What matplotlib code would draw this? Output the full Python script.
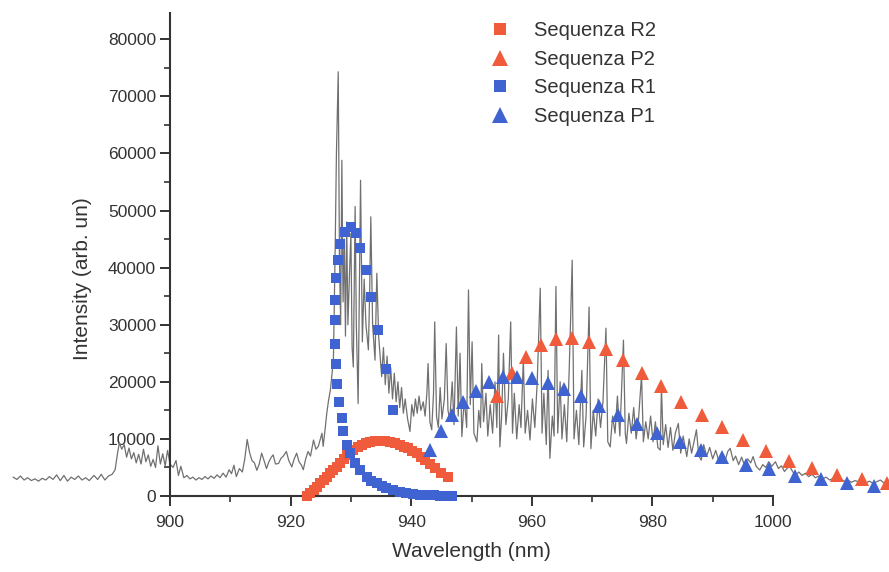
import matplotlib
matplotlib.use("Agg")
import matplotlib.pyplot as plt
from matplotlib.ticker import MultipleLocator

plt.rcParams['font.family'] = ['Liberation Sans', 'DejaVu Sans']

spec_wl = [874.0, 874.6, 875.2, 875.8, 876.4, 877.0, 877.6, 878.2, 878.8, 879.4,
           880.0, 880.6, 881.2, 881.8, 882.4, 883.0, 883.6, 884.2, 884.8, 885.4,
           886.0, 886.6, 887.4, 888.0, 888.6, 889.2, 889.8, 890.4, 890.9, 891.3,
           891.6, 892.0, 892.4, 892.8, 893.2, 893.6, 894.0, 894.4, 894.8, 895.2,
           895.6, 896.0, 896.4, 896.8, 897.2, 897.6, 898.0, 898.4, 898.8, 899.2,
           899.6, 900.0, 900.5, 901.0, 901.4, 901.8, 902.3, 902.8, 903.3, 903.8,
           904.3, 904.8, 905.3, 905.8, 906.3, 906.8, 907.3, 907.8, 908.3, 908.8,
           909.3, 909.8, 910.2, 910.6, 911.0, 911.5, 912.0, 912.4, 912.8, 913.2,
           913.6, 914.0, 914.4, 914.8, 915.2, 915.6, 916.0, 916.4, 916.8, 917.1,
           917.5, 918.0, 918.4, 918.8, 919.3, 919.7, 920.2, 920.6, 921.0, 921.4,
           921.8, 922.1, 922.5, 922.9, 923.3, 923.8, 924.2, 924.6, 925.0, 925.2,
           925.4, 925.7, 926.0, 926.3, 926.6, 927.1, 927.4, 927.6, 927.9, 928.1,
           928.3, 928.5, 928.7, 928.9, 929.1, 929.3, 929.5, 929.8, 930.0, 930.2,
           930.4, 930.7, 930.9, 931.2, 931.4, 931.6, 931.9, 932.2, 932.5, 932.9,
           933.1, 933.3, 933.6, 934.0, 934.3, 934.6, 935.1, 935.4, 935.7, 936.0,
           936.3, 936.6, 936.9, 937.2, 937.5, 937.8, 938.1, 938.4, 938.7, 939.0,
           939.4, 939.8, 940.1, 940.4, 940.7, 941.0, 941.3, 941.6, 942.0, 942.3,
           942.6, 942.8, 943.1, 943.4, 943.7, 943.9, 944.2, 944.5, 944.8, 945.1,
           945.5, 945.8, 946.1, 946.4, 946.8, 947.1, 947.5, 947.8, 948.1, 948.4,
           948.8, 949.2, 949.5, 949.8, 950.1, 950.4, 950.9, 951.2, 951.5, 951.7,
           952.0, 952.4, 952.7, 953.1, 953.5, 953.9, 954.2, 954.5, 954.7, 955.0,
           955.3, 955.7, 956.1, 956.5, 956.8, 957.1, 957.5, 957.9, 958.2, 958.6,
           958.9, 959.3, 959.7, 960.1, 960.5, 960.9, 961.4, 961.7, 962.0, 962.4,
           962.7, 963.0, 963.4, 963.7, 964.0, 964.3, 964.7, 965.0, 965.4, 965.8,
           966.2, 966.7, 967.0, 967.4, 967.8, 968.3, 968.6, 969.0, 969.5, 969.8,
           970.2, 970.6, 971.0, 971.4, 971.8, 972.3, 972.6, 973.0, 973.4, 973.8,
           974.2, 974.6, 975.2, 975.5, 975.7, 976.1, 976.5, 976.9, 977.3, 977.7,
           978.2, 978.5, 978.9, 979.3, 979.7, 980.1, 980.5, 980.9, 981.3, 981.5,
           981.8, 982.2, 982.6, 983.0, 983.4, 983.8, 984.3, 984.7, 985.1, 985.7,
           986.1, 986.5, 986.9, 987.3, 987.7, 988.1, 988.5, 989.0, 989.5, 990.0,
           990.5, 991.0, 991.5, 992.0, 992.5, 992.9, 993.4, 993.8, 994.3, 994.8,
           995.3, 995.8, 996.3, 996.7, 997.2, 997.8, 998.3, 998.8, 999.3, 999.8,
           1000.4, 1000.9, 1001.4, 1001.9, 1002.4, 1002.8, 1003.3, 1003.8, 1004.3, 1004.8,
           1005.4, 1005.9, 1006.5, 1007.0, 1007.6, 1008.2, 1008.8, 1009.4, 1010.0, 1010.6,
           1011.2, 1011.8, 1012.4, 1013.0, 1013.6, 1014.2, 1014.8, 1015.4, 1016.0, 1016.6,
           1017.2, 1017.8, 1018.4, 1019.0]
spec_int = [3300, 2900, 3500, 2800, 3200, 2700, 3000, 2600, 3100, 2800,
            3400, 2900, 3700, 2700, 3600, 2600, 3300, 2900, 3500, 2800,
            3200, 2700, 3600, 2900, 3800, 2800, 3500, 3800, 4600, 7500,
            9300, 8200, 9000, 6800, 8400, 6500, 7600, 5800, 7300, 5600,
            8200, 6000, 7200, 5200, 6400, 5000, 8800, 5600, 7400, 5300,
            8000, 5600, 5000, 6200, 3600, 5200, 3200, 3600, 3000, 3300,
            2800, 3200, 2900, 3400, 3000, 3500, 3100, 3700, 3200, 4000,
            3300, 4600, 3900, 5400, 3400, 4800, 4200, 6500, 9900, 7600,
            6200, 5800, 4500, 5600, 7500, 6200, 4800, 6000, 6800, 7200,
            5600, 5700, 6600, 7000, 7800, 6200, 5100, 6500, 7500, 6000,
            5400, 4600, 6500, 7800, 7000, 9800, 8200, 8700, 10200, 11000,
            8700, 11500, 14500, 16800, 18600, 23800, 44000, 60000, 74300, 42000,
            30000, 58800, 34000, 45000, 28000, 48000, 30000, 40000, 46000, 26000,
            22600, 50700, 30000, 16200, 35000, 55300, 27000, 38000, 30000, 25600,
            35000, 48900, 30000, 23800, 39000, 28000, 20900, 26000, 19500, 24500,
            18000, 22500, 17000, 21500, 16500, 20000, 15500, 19000, 14500, 17000,
            13500, 11300, 16000, 14000, 17000, 14500, 17500, 15000, 16500, 14000,
            18000, 23200, 13000, 11600, 18000, 30500, 14000, 12000, 19000, 13500,
            17000, 26700, 15000, 13300, 20000, 12500, 29600, 14000, 25000, 10400,
            17000, 12000, 36100, 16000, 27000, 11000, 9500, 15000, 12000, 23200,
            13000, 18000, 10500, 16000, 11000, 20000, 12000, 28200, 8600, 14000,
            25000, 12500, 17000, 30500, 11000, 18000, 10000, 16000, 12000, 24000,
            11000, 15000, 9800, 17000, 12000, 20000, 36400, 11000, 18000, 9000,
            22000, 6600, 14000, 10500, 36700, 11000, 20000, 10000, 16000, 9500,
            22000, 41300, 10000, 15000, 9000, 22000, 8600, 14000, 33100, 8300,
            15000, 10500, 17000, 12000, 16500, 29400, 9500, 8600, 14000, 11000,
            17500, 10500, 27300, 11000, 9200, 14500, 11000, 15500, 10000, 13500,
            21200, 9500, 13000, 10000, 14000, 9500, 13000, 8500, 8050, 19100,
            9000, 12500, 8500, 12000, 8000, 11000, 12700, 7500, 10500, 6900,
            10000, 7500, 9500, 11600, 7000, 6300, 9000, 7000, 8500, 6500,
            8000, 6200, 7500, 6000, 7800, 8350, 6200, 7000, 5500, 6800,
            5300, 6500, 5800, 6900, 5200, 4550, 5500, 5000, 6000, 5200,
            6000, 4800, 5300, 4300, 4900, 5100, 4200, 3700, 4200, 3600,
            4000, 3400, 3800, 3200, 3500, 3000, 3300, 2800, 3100, 2700,
            3000, 2600, 2800, 2400, 2700, 2500, 2800, 2300, 2600, 2200,
            2500, 2800, 2300, 2500]

# R branches (squares)
r2_wl = [922.7, 923.2, 923.8, 924.4, 924.9, 925.5, 926.0, 926.6, 927.1, 927.7,
         928.2, 928.8, 929.3, 930.4, 931.1, 931.8, 932.5, 933.2, 934.0, 934.8,
         935.7, 936.5, 937.3, 938.1, 938.8, 939.5, 940.2, 940.9, 941.6, 942.3,
         943.1, 943.9, 944.9, 946.1]
r2_int = [0, 500, 1050, 1600, 2200, 2800, 3400, 4000, 4550, 5100,
          5700, 6500, 7200, 8050, 8500, 8900, 9200, 9500, 9650, 9700,
          9650, 9500, 9200, 8900, 8600, 8350, 7900, 7500, 6900, 6300,
          5600, 4850, 4000, 3300]

r1_wl = [929.3, 928.7, 928.5, 928.1, 927.7, 927.6, 927.4, 927.4, 927.4, 927.6,
         927.9, 928.2, 929.0, 930.0, 930.8, 931.5, 932.5, 933.4, 934.5, 935.8,
         937.0, 929.9, 930.7, 931.5, 932.6, 933.4, 934.3, 935.1, 935.9, 937.0,
         938.1, 939.2, 940.3, 941.4, 942.6, 943.7, 944.8, 945.8, 946.7]
r1_int = [8900, 11300, 13600, 16500, 19700, 23100, 26700, 30800, 34400, 38100,
          41300, 44200, 46300, 47200, 46000, 43400, 39600, 34800, 29100, 22200,
          15100, 7500, 5700, 4550, 3400, 2700, 2200, 1700, 1350, 1000,
          750, 500, 350, 250, 175, 100, 50, 20, 0]

# P branches (triangles)
p2_wl = [954.2, 956.7, 959.0, 961.5, 964.0, 966.7, 969.5, 972.3, 975.2, 978.2,
         981.5, 984.7, 988.2, 991.6, 995.1, 998.8, 1002.7, 1006.4, 1010.6, 1014.7,
         1018.9]
p2_int = [17500, 21500, 24400, 26400, 27500, 27700, 27000, 25800, 23850, 21550,
          19200, 16550, 14200, 12000, 9800, 7900, 6200, 4850, 3700, 2900,
          2300]

p1_wl = [943.1, 944.9, 946.7, 948.6, 950.7, 952.9, 955.3, 957.6, 960.0, 962.7,
         965.4, 968.1, 971.2, 974.3, 977.5, 980.8, 984.5, 988.0, 991.6, 995.5,
         999.4, 1003.6, 1007.9, 1012.2, 1016.7]
p1_int = [8050, 11300, 14200, 16500, 18400, 19900, 20900, 20900, 20600, 19800,
          18700, 17500, 15800, 14200, 12600, 11100, 9500, 8100, 6800, 5500,
          4700, 3450, 2900, 2200, 1750]

red = '#f05c3b'
blue = '#3f64d2'
ink = '#333333'

fig = plt.figure(figsize=(8.89, 5.72), dpi=100)
ax = fig.add_axes([170/889, 1 - 496/572, 603/889, 483/572])

ax.plot(spec_wl, spec_int, color='#707070', lw=0.9, clip_on=False, zorder=2)
ax.plot(r2_wl, r2_int, 's', color=red, ms=6.5, mew=0, clip_on=False, zorder=3, label='Sequenza R2')
ax.plot(p2_wl, p2_int, '^', color=red, ms=9.5, mew=0, clip_on=False, zorder=3, label='Sequenza P2')
ax.plot(r1_wl, r1_int, 's', color=blue, ms=6.5, mew=0, clip_on=False, zorder=4, label='Sequenza R1')
ax.plot(p1_wl, p1_int, '^', color=blue, ms=9.5, mew=0, clip_on=False, zorder=4, label='Sequenza P1')

ax.set_xlim(900, 1000)
ax.set_ylim(0, 84600)
ax.xaxis.set_major_locator(MultipleLocator(20))
ax.xaxis.set_minor_locator(MultipleLocator(10))
ax.yaxis.set_major_locator(MultipleLocator(10000))
ax.yaxis.set_minor_locator(MultipleLocator(5000))

for side in ['top', 'right']:
    ax.spines[side].set_visible(False)
for side in ['left', 'bottom']:
    ax.spines[side].set_linewidth(1.5)
    ax.spines[side].set_color(ink)

ax.tick_params(which='major', direction='out', length=7, width=1.4, colors=ink, labelsize=12.5)
ax.tick_params(which='minor', direction='out', length=4, width=1.2, colors=ink)
ax.tick_params(axis='x', which='major', pad=7)
ax.tick_params(axis='y', which='major', pad=3)

ax.set_xlabel('Wavelength (nm)', fontsize=15, color=ink, labelpad=8)
ax.set_ylabel('Intensity (arb. un)', fontsize=15, color=ink)
ax.yaxis.set_label_coords(-0.13, 0.45)

ax.legend(loc='upper left', bbox_to_anchor=(0.53, 0.983), frameon=False,
          fontsize=14.5, handlelength=1.0, handletextpad=1.2, borderpad=0,
          borderaxespad=0, labelspacing=0.47, markerscale=1.25, labelcolor=ink)

fig.savefig('out.png', dpi=100)
